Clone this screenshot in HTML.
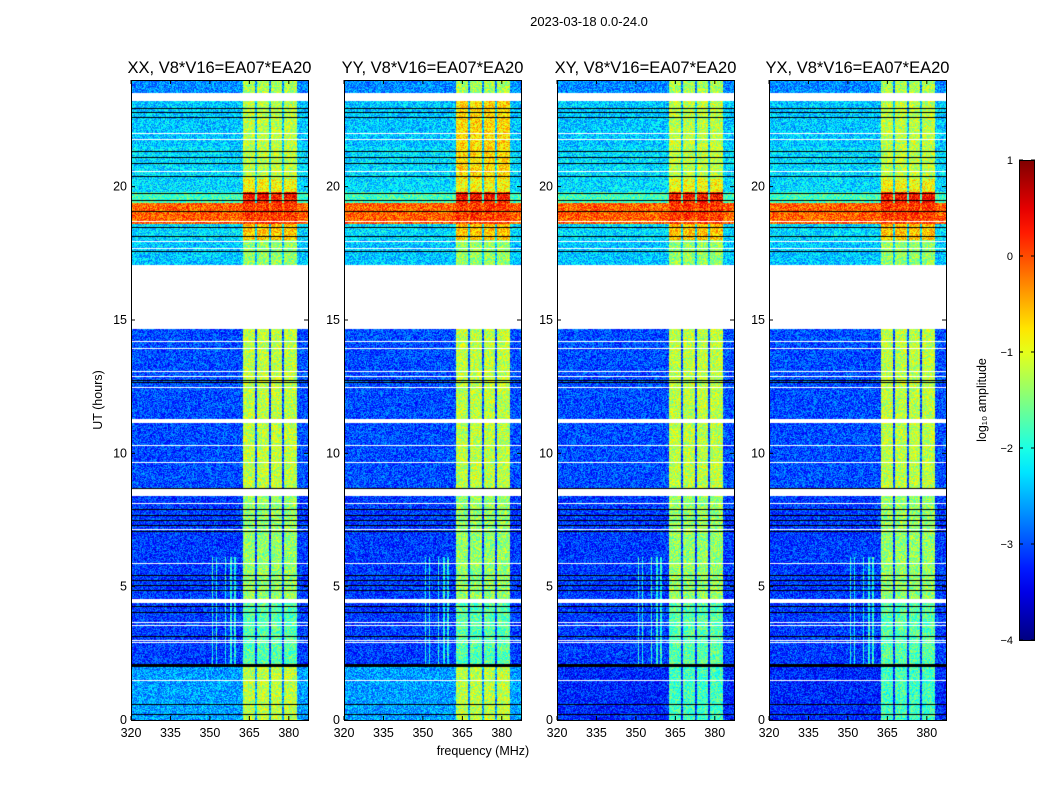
<!DOCTYPE html>
<html><head><meta charset="utf-8"><style>
body{margin:0;background:#fff;width:1050px;height:800px;overflow:hidden;position:relative;font-family:"Liberation Sans",sans-serif}
canvas{position:absolute}
svg{position:absolute;left:0;top:0}
</style></head><body>
<div id="root"></div>
<svg id="ov" width="1050" height="800"></svg>
<script>
// ---- data ----
const panelTitles = ["XX, V8*V16=EA07*EA20","YY, V8*V16=EA07*EA20","XY, V8*V16=EA07*EA20","YX, V8*V16=EA07*EA20"];
const panelLeft = [131,344,557,769];
const bottomLevel = [-2.6,-2.6,-3.2,-3.2];
const upperChanLevel = [-1.2,-0.7,-1.2,-1.2];
// time segments (hours); level: null = blank (white), -9 = black
const segStart = [23.5,23.2,21.5,20.3,19.8,19.4,18.6,18.0,17.05,14.65,11.3,11.15,8.7,8.65,8.4,4.55,4.4,2.1,2.0,0.0];
const segEnd   = [24.0,23.5,23.2,21.5,20.3,19.8,19.4,18.6,18.0,17.05,14.65,11.3,11.15,8.7,8.65,8.4,4.55,4.4,2.1,2.0];
const segBg    = [-2.7,null,-2.4,-2.3,-2.3,-1.8,-0.1,-2.3,-2.4,null,-3.0,null,-3.0,-9,null,-3.1,null,-3.1,-9,-2.6];
const segChan  = [-1.3,null,-1.3,-1.3,-0.9,0.3,0.1,-0.6,-1.4,null,-1.2,null,-1.2,-9,null,-1.4,null,-1.7,-9,-1.2];
const whiteLines = [22.0,21.8,20.6,18.7,17.96,17.7,14.2,13.95,13.1,12.9,12.5,10.3,9.67,8.14,7.16,5.9,3.67,3.56,3.0,2.92,1.5];
const blackLines = [22.95,22.8,22.6,21.35,21.1,20.9,20.4,19.76,19.5,19.1,18.5,18.15,17.6,12.75,12.68,7.9,7.7,7.5,7.3,7.1,5.45,5.25,5.05,4.87,4.27,4.05,3.15,0.6,0.22];
const chanStart = [362.6,367.8,373.1,378.1];
const chanEnd   = [367.2,372.5,377.5,383.0];
const streakFreq = [351,352.5,356,358,359.5];
const streakFrom = 2.0, streakTo = 6.1, streakLevel = -2.0;
const xTicks = [320,335,350,365,380];
const yTicks = [0,5,10,15,20];
const cbTicks = [1,0,-1,-2,-3,-4];
// ---- scales ----
const TOP=80,H=640,W=177,F0=320,F1=387.3,VMIN=-4,VMAX=1;
const xs=f=>(f-F0)/(F1-F0)*W;
const ys=h=>H-(h/24)*H;
function jet(v){let t=(v-VMIN)/(VMAX-VMIN);t=Math.max(0,Math.min(1,t));
 const c=x=>Math.max(0,Math.min(1,1.5-Math.abs(4*t-x)));return [c(3)*255,c(2)*255,c(1)*255];}
function hash(a,b){let h=(a*374761393+b*668265263)|0;h=(h^(h>>>13))*1274126177|0;return ((h^(h>>>16))>>>0)/4294967296;}
const root=document.getElementById('root');
const ov=document.getElementById('ov');
const NS="http://www.w3.org/2000/svg";
function el(tag,attrs,txt){const e=document.createElementNS(NS,tag);for(const k in attrs)e.setAttribute(k,attrs[k]);if(txt!==undefined)e.textContent=txt;ov.appendChild(e);return e;}
panelLeft.forEach((L,p)=>{
 const cv=document.createElement('canvas');cv.width=W;cv.height=H;cv.style.left=L+'px';cv.style.top=TOP+'px';
 
 
 root.appendChild(cv);
 const ctx=cv.getContext('2d');const img=ctx.createImageData(W,H);
 for(let y=0;y<H;y++){
  const h=(H-y-0.5)/H*24;
  let si=segStart.findIndex((s,i)=>h>=s&&h<segEnd[i]);if(si<0)si=0;
  let bg=segBg[si],ch=segChan[si];
  if(si===segBg.length-1){bg=bottomLevel[p];ch=bottomLevel[p]+1.4;}
  if(h>=20.3&&h<23.2)ch=upperChanLevel[p];
  let kind=0;
  if(whiteLines.some(v=>Math.abs(ys(v)-y)<0.6))kind=1;
  if(blackLines.some(v=>Math.abs(ys(v)-y)<0.6))kind=2;
  for(let x=0;x<W;x++){
   const i=(y*W+x)*4;let r,g,b;
   const f=F0+(x+0.5)/W*(F1-F0);
   if(bg===null||kind===1){r=g=b=255;}
   else if(bg===-9||kind===2){r=g=b=0;}
   else{
    let v=bg;
    if(chanStart.some((s,k)=>f>=s&&f<chanEnd[k]))v=ch;
    if(h>=streakFrom&&h<streakTo&&streakFreq.some(s=>Math.abs(s-f)<0.3))v=streakLevel;
    v+= (hash(x+p*1000,y)-0.5)*1.0;
    [r,g,b]=jet(v);
   }
   img.data[i]=r;img.data[i+1]=g;img.data[i+2]=b;img.data[i+3]=255;
  }
 }
 ctx.putImageData(img,0,0);
 let e=el('rect',{x:L+0.5,y:TOP+0.5,width:W,height:H,fill:'none',stroke:'#000','stroke-width':1});
 
 
 e=el('text',{x:L+W/2,y:73,'text-anchor':'middle','font-size':16.5},panelTitles[p]);
 
 
 xTicks.forEach(t=>{const X=L+xs(t);
  el('line',{x1:X,x2:X,y1:TOP+H,y2:TOP+H-4,stroke:'#000'});
  el('line',{x1:X,x2:X,y1:TOP,y2:TOP+4,stroke:'#000'});
  const tx=el('text',{x:X,y:TOP+H+17,'text-anchor':'middle','font-size':12.5},String(t));
  
  
 });
 yTicks.forEach(t=>{const Y=TOP+ys(t);
  el('line',{x1:L,x2:L+4,y1:Y,y2:Y,stroke:'#000'});
  el('line',{x1:L+W,x2:L+W-4,y1:Y,y2:Y,stroke:'#000'});
  const tx=el('text',{x:L-4,y:Y+4,'text-anchor':'end','font-size':12.5},String(t));
  
  
 });
});
let t=el('text',{x:589,y:26,'text-anchor':'middle','font-size':13},'2023-03-18 0.0-24.0');


t=el('text',{x:483,y:755,'text-anchor':'middle','font-size':12.5},'frequency (MHz)');


t=el('text',{x:102,y:400,'text-anchor':'middle','font-size':12.5,transform:'rotate(-90 102 400)'},'UT (hours)');


const defs=el('defs',{});const lg=document.createElementNS(NS,'linearGradient');
lg.setAttribute('id','jg');lg.setAttribute('x1','0');lg.setAttribute('y1','1');lg.setAttribute('x2','0');lg.setAttribute('y2','0');
for(let k=0;k<=20;k++){const v=VMIN+k/20*(VMAX-VMIN);const c=jet(v);const s=document.createElementNS(NS,'stop');
 s.setAttribute('offset',k/20);s.setAttribute('stop-color',`rgb(${c.map(Math.round).join(',')})`);lg.appendChild(s);}
defs.appendChild(lg);
const CBT=160,CBH=480;
t=el('rect',{x:1019.5,y:CBT+0.5,width:15,height:CBH,fill:'url(#jg)',stroke:'#000'});


cbTicks.forEach(v=>{const Y=CBT+(VMAX-v)/(VMAX-VMIN)*CBH;
 el('line',{x1:1019,x2:1023,y1:Y,y2:Y,stroke:'#000'});el('line',{x1:1035,x2:1031,y1:Y,y2:Y,stroke:'#000'});
 const tx=el('text',{x:1013,y:Y+4,'text-anchor':'end','font-size':11},v<0?'\u2212'+(-v):String(v));
 
 
});
t=el('text',{x:986,y:400,'text-anchor':'middle','font-size':12.5,transform:'rotate(-90 986 400)'},'log\u2081\u2080 amplitude');


</script>
</body></html>
